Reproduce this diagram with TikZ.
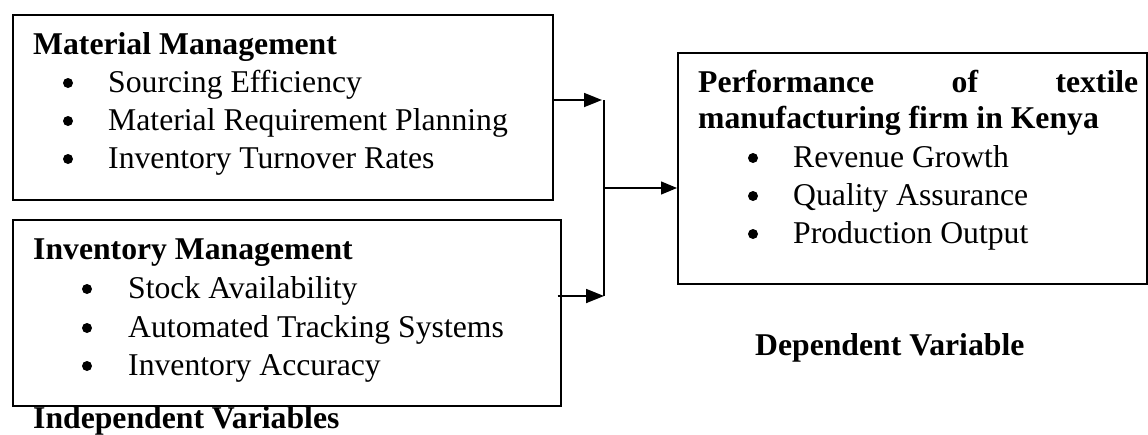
\documentclass[tikz,border=0pt]{standalone}
\usepackage{fontspec}
\setmainfont{Liberation Serif}
\usetikzlibrary{arrows.meta}
\begin{document}
\begin{tikzpicture}[x=1pt,y=-1pt,
  every node/.style={font=\fontsize{31.7}{36.5}\selectfont},
  frame/.style={draw, line width=1.6pt, inner sep=0pt, anchor=north west},
  txt/.style={anchor=base west, inner sep=0pt},
  head/.style={txt, font=\fontsize{31.7}{36.5}\selectfont\bfseries},
  dot/.style={circle, fill, inner sep=0pt, minimum size=10pt, yshift=9pt},
  link/.style={line width=1.8pt, -{Triangle[length=18pt,width=14pt]}},
  thin link/.style={line width=1.3pt, -{Triangle[length=16pt,width=13pt]}},
  joint/.style={line width=1.3pt}
]
\useasboundingbox (0,0) rectangle (1148,434);

% Material management block
\node[frame, minimum width=540pt, minimum height=185pt] (mm) at (12,14) {};
\node[head] (mm-h) at (33,54) {Material Management};
\node[dot] (mm-b1) at (68,92) {};
\node[txt] (mm-t1) at (108,92) {Sourcing Efficiency};
\node[dot] (mm-b2) at (68,130) {};
\node[txt] (mm-t2) at (108,130) {Material Requirement Planning};
\node[dot] (mm-b3) at (68,168) {};
\node[txt] (mm-t3) at (108,168) {Inventory Turnover Rates};

% Inventory management block
\node[frame, minimum width=548pt, minimum height=186pt] (im) at (12,219) {};
\node[head] (im-h) at (33,259) {Inventory Management};
\node[dot] (im-b1) at (87,298) {};
\node[txt] (im-t1) at (128,298) {Stock Availability};
\node[dot] (im-b2) at (87,337) {};
\node[txt] (im-t2) at (128,337) {Automated Tracking Systems};
\node[dot] (im-b3) at (87,375) {};
\node[txt] (im-t3) at (128,375) {Inventory Accuracy};
\node[head] (iv) at (33,428) {Independent Variables};

% Performance block
\node[frame, minimum width=469pt, minimum height=231pt] (pf) at (677,52) {};
\node[head] (pf-h1) at (698,92) {\hbox to 440pt{Performance\hfill of\hfill textile}};
\node[head] (pf-h2) at (698,128) {manufacturing firm in Kenya};
\node[dot] (pf-b1) at (753,167) {};
\node[txt] (pf-t1) at (793,167) {Revenue Growth};
\node[dot] (pf-b2) at (753,205) {};
\node[txt] (pf-t2) at (793,205) {Quality Assurance};
\node[dot] (pf-b3) at (753,243) {};
\node[txt] (pf-t3) at (793,243) {Production Output};
\node[head] (dv) at (755,355) {Dependent Variable};

% Connectors
\coordinate (top) at (604,100);
\coordinate (bot) at (604,296);
\coordinate (mid) at (604,188);
\draw[link] (mm.east |- top) -- ([xshift=-2pt]top);
\draw[link] ([xshift=-4pt]im.east |- bot) -- (bot);
\draw[joint] (top) -- (bot);
\draw[thin link] (mid) -- (pf.west |- mid);
\end{tikzpicture}
\end{document}
